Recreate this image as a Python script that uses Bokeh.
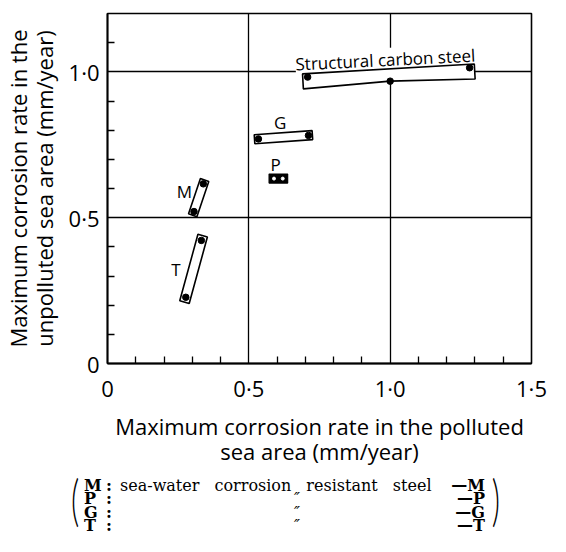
import numpy as np
from bokeh.plotting import figure
from bokeh.layouts import column
from bokeh.models import FixedTicker, CustomJSTickFormatter, Label, Div
from bokeh.embed import file_html
from bokeh.resources import INLINE
from bokeh.core.properties import value

# ---------------- data ----------------
group_names = ["Structural carbon steel", "G", "P", "M", "T"]
scs_x = [0.708, 1.0, 1.281]
scs_y = [0.982, 0.968, 1.014]
g_x = [0.534, 0.711]
g_y = [0.770, 0.782]
p_x = [0.589, 0.620]
p_y = [0.634, 0.634]
m_x = [0.306, 0.339]
m_y = [0.521, 0.616]
t_x = [0.277, 0.332]
t_y = [0.227, 0.422]
label_x = [0.983, 0.611, 0.595, 0.272, 0.242]
label_y = [1.042, 0.825, 0.683, 0.590, 0.321]

x_major = [0, 0.5, 1.0, 1.5]
x_minor = [0.1, 0.2, 0.3, 0.4, 0.6, 0.7, 0.8, 0.9, 1.1, 1.2, 1.3, 1.4]
y_major = [0, 0.5, 1.0]
y_minor = [0.1, 0.2, 0.3, 0.4, 0.6, 0.7, 0.8, 0.9, 1.1]
grid_values = [0.5, 1.0]

legend_letters = ["M", "P", "G", "T"]
legend_desc = ["sea-water corrosion resistant steel", "\u2033", "\u2033", "\u2033"]

x_label = "Maximum corrosion rate in the polluted\nsea area (mm/year)"
y_label = "Maximum corrosion rate in the\nunpolluted sea area (mm/year)"

# ---------------- layout ----------------
W, H, H2 = 550, 476, 54
ML, MR, MT, MB = 99, 19, 13, 113
X0, X1, Y0, Y1 = 0, 1.5, 0, 1.2
FW, FH = W - ML - MR, H - MT - MB
ppx, ppy = FW / (X1 - X0), FH / (Y1 - Y0)

SANS = "Open Sans"

p = figure(width=W, height=H, x_range=(X0, X1), y_range=(Y0, Y1),
           output_backend="svg", toolbar_location=None,
           min_border_left=ML, min_border_right=MR,
           min_border_top=MT, min_border_bottom=MB)
p.background_fill_color = "white"
p.border_fill_color = "white"
p.outline_line_color = "black"
p.outline_line_width = 1.6

fmt = CustomJSTickFormatter(code="return tick == 0 ? '0' : tick.toFixed(1).replace('.', '\u00b7');")

for ax, maj, mnr in ((p.xaxis[0], x_major, x_minor), (p.yaxis[0], y_major, y_minor)):
    ax.ticker = FixedTicker(ticks=maj, minor_ticks=mnr)
    ax.formatter = fmt
    ax.major_tick_in = 0
    ax.major_tick_out = 0
    ax.minor_tick_in = 7
    ax.minor_tick_out = 0
    ax.minor_tick_line_color = "black"
    ax.minor_tick_line_width = 1.3
    ax.axis_line_color = "black"
    ax.axis_line_width = 1.8
    ax.major_label_text_font = SANS
    ax.major_label_text_font_size = "22px"
    ax.major_label_text_color = "black"
    ax.axis_label_text_font = SANS
    ax.axis_label_text_font_size = "22px"
    ax.axis_label_text_font_style = "normal"
    ax.axis_label_text_color = "black"
    ax.axis_label_text_line_height = 0.85

p.xaxis.axis_label = x_label
p.yaxis.axis_label = y_label
p.xaxis.major_label_standoff = 9
p.xaxis.axis_label_standoff = 5
p.yaxis.major_label_standoff = 8
p.yaxis.axis_label_standoff = 7

p.xgrid.ticker = FixedTicker(ticks=grid_values)
p.ygrid.ticker = FixedTicker(ticks=grid_values)
for g in (p.xgrid[0], p.ygrid[0]):
    g.grid_line_color = "black"
    g.grid_line_width = 1.3


def band(xs, ys, up, down, ext, middle=None):
    X = np.asarray(xs) * ppx
    Y = np.asarray(ys) * ppy
    d = np.array([X[-1] - X[0], Y[-1] - Y[0]])
    d = d / np.linalg.norm(d)
    n = np.array([-d[1], d[0]])
    a = np.array([X[0], Y[0]]) - ext * d
    b = np.array([X[-1], Y[-1]]) + ext * d
    pts = [a + up * n, b + up * n, b - down * n]
    if middle is not None:
        pts.append(np.array([middle[0] * ppx, middle[1] * ppy]))
    pts.append(a - down * n)
    pts = np.array(pts)
    return list(pts[:, 0] / ppx), list(pts[:, 1] / ppy)


# label with white background, drawn under the boxes and dots
p.add_layout(Label(x=label_x[0], y=label_y[0], text=group_names[0], angle=0.05,
                   text_align="center", text_baseline="middle",
                   text_font=SANS, text_font_size="17px", text_color="black",
                   background_fill_color="white", level="underlay"))

boxes = [
    band(scs_x, scs_y, 3.5, 11.5, 5, middle=(scs_x[1], scs_y[1])),
    band(g_x, g_y, 4.5, 4.5, 4),
    band(m_x, m_y, 4.5, 4.5, 4),
    band(t_x, t_y, 5, 5, 5),
]
p.patches([b[0] for b in boxes], [b[1] for b in boxes],
          fill_color="white", line_color="black", line_width=1.6)
pb = band(p_x, p_y, 4.5, 4.5, 5)
p.patch(pb[0], pb[1], fill_color="black", line_color="black", line_width=1.2)

p.scatter(scs_x + g_x + m_x + t_x, scs_y + g_y + m_y + t_y,
          size=6.5, color="black")
p.scatter(p_x, p_y, size=3, color="white", line_color="white")

p.text(x=label_x[1:], y=label_y[1:], text=group_names[1:],
       text_font=value(SANS), text_font_size="17px", text_color="black",
       text_align="center", text_baseline="middle")

# ---------------- bottom note ----------------
LH = 13.5
top0 = 2.5
base = f"position:absolute;white-space:nowrap;line-height:{LH}px;"
spans = [
    f'<span style="{base}left:84px;top:{top0}px;font-weight:bold;">' + "<br>".join(legend_letters) + "</span>",
    f'<span style="{base}left:106px;top:{top0}px;font-weight:bold;">' + "<br>".join([":"] * 4) + "</span>",
    f'<span style="{base}left:120px;top:{top0}px;word-spacing:10px;">{legend_desc[0]}</span>',
    f'<span style="{base}left:282px;width:30px;text-align:center;top:{top0 + LH}px;font-style:italic;">'
    + "<br>".join(legend_desc[1:]) + "</span>",
    f'<span style="{base}right:65px;top:{top0}px;font-weight:bold;text-align:right;">'
    + "<br>".join("\u2014" + l for l in legend_letters) + "</span>",
]
paren = ("position:absolute;top:-5px;display:inline-block;font-family:Lato;font-weight:300;"
         "font-size:32px;line-height:32px;transform:scaleY(1.75);transform-origin:top center;")
spans.append(f'<span style="{paren}left:71px;">(</span>')
spans.append(f'<span style="{paren}right:50px;">)</span>')
note_html = ('<div style="position:relative;width:550px;height:54px;overflow:visible;'
             "font-family:'DejaVu Serif';font-size:16px;color:black;\">" + "".join(spans) + "</div>")
note = Div(text=note_html, width=W, height=H2, margin=(0, 0, 0, 0))

open("out.html", "w").write(file_html(column(p, note, spacing=0), INLINE))
